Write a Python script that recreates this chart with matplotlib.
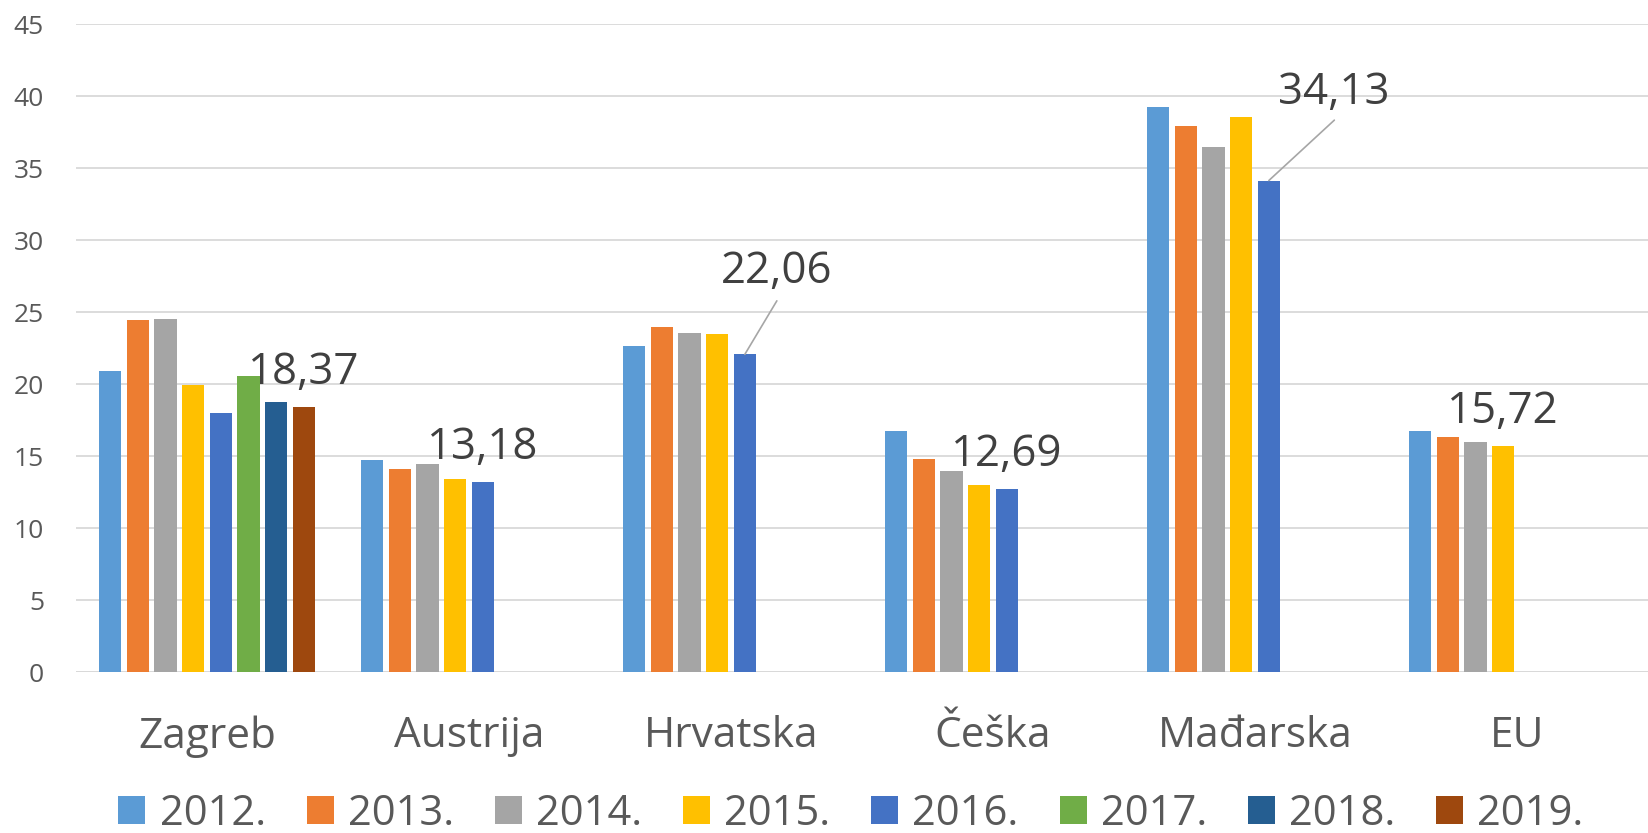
import numpy as np
import matplotlib
matplotlib.use("Agg")
import matplotlib.pyplot as plt
from matplotlib.patches import Patch

plt.rcParams['font.family'] = ['Open Sans', 'DejaVu Sans']

categories = ["Zagreb", "Austrija", "Hrvatska", "Češka", "Mađarska", "EU"]
years = ["2012.", "2013.", "2014.", "2015.", "2016.", "2017.", "2018.", "2019."]
nan = np.nan
v2012 = [20.87, 14.69, 22.61, 16.71, 39.22, 16.74]
v2013 = [24.47, 14.13, 23.94, 14.78, 37.92, 16.34]
v2014 = [24.53, 14.47, 23.57, 13.94, 36.49, 15.96]
v2015 = [19.94, 13.42, 23.45, 13.01, 38.54, 15.72]
v2016 = [18.01, 13.18, 22.06, 12.69, 34.13, nan]
v2017 = [20.53, nan, nan, nan, nan, nan]
v2018 = [18.73, nan, nan, nan, nan, nan]
v2019 = [18.37, nan, nan, nan, nan, nan]
series = [v2012, v2013, v2014, v2015, v2016, v2017, v2018, v2019]
colors = ["#5B9BD5", "#ED7D31", "#A5A5A5", "#FFC000", "#4472C4", "#70AD47", "#255E91", "#9E480E"]

# labelled points: (category index, series index, label text)
labels = [(0, 7, "18,37"), (1, 4, "13,18"), (2, 4, "22,06"), (3, 4, "12,69"), (4, 4, "34,13"), (5, 3, "15,72")]

fig = plt.figure(figsize=(16.48, 8.33), dpi=100)
ax = fig.add_axes([76/1648, 1-672/833, 1-76/1648, (672-24)/833])

x = np.arange(len(categories))
slot = 0.1057
bw = 0.085
for j, (vals, c) in enumerate(zip(series, colors)):
    ax.bar(x + (j - 3.5) * slot, vals, width=bw, color=c, zorder=3, linewidth=0)

ax.set_xlim(-0.5, 5.5)
ax.set_ylim(0, 45)
ax.set_yticks(np.arange(0, 46, 5))
ax.grid(axis='y', color='#D9D9D9', linewidth=1.3, zorder=0)
ax.set_axisbelow(True)
for s in ax.spines.values():
    s.set_visible(False)
ax.axhline(0, color='#D9D9D9', linewidth=1.8, zorder=2)
ax.set_xticks(x)
ax.set_xticklabels(categories)
ax.tick_params(axis='x', length=0, labelsize=30.5, labelcolor='#595959', pad=31)
ax.tick_params(axis='y', length=0, labelsize=19, labelcolor='#595959', pad=23)

px = 72 / 100.0  # points per pixel
lfs = 31.5
for ci, sj, txt in labels:
    xc = x[ci] + (sj - 3.5) * slot
    yv = series[sj][ci]
    if ci == 2:
        ax.annotate(txt, (xc, yv), xytext=(32 * px, 71 * px), textcoords='offset points',
                    ha='center', va='baseline', fontsize=lfs, color='#404040', zorder=5)
        ax.annotate('', xy=(xc, yv), xytext=(32 * px, 53.5 * px), textcoords='offset points',
                    arrowprops=dict(arrowstyle='-', color='#A6A6A6', lw=1.2, shrinkA=0, shrinkB=0))
    elif ci == 4:
        ax.annotate(txt, (xc, yv), xytext=(65 * px, 76.4 * px), textcoords='offset points',
                    ha='center', va='baseline', fontsize=lfs, color='#404040', zorder=5)
        ax.annotate('', xy=(xc, yv), xytext=(65.5 * px, 60.4 * px), textcoords='offset points',
                    arrowprops=dict(arrowstyle='-', color='#A6A6A6', lw=1.2, shrinkA=0, shrinkB=0))
    else:
        ax.annotate(txt, (xc, yv), xytext=(0, 23 * px), textcoords='offset points',
                    ha='center', va='baseline', fontsize=lfs, color='#404040', zorder=5)

handles = [Patch(facecolor=c, edgecolor='none') for c in colors]
leg = fig.legend(handles, years, loc='center', bbox_to_anchor=(851/1648, 1-814/833),
                 ncol=8, frameon=False, fontsize=30, handlelength=0.65, handleheight=0.65,
                 handletextpad=0.34, columnspacing=0.98, borderpad=0, borderaxespad=0)
for t in leg.get_texts():
    t.set_color('#595959')

fig.savefig("out.png", dpi=100)
